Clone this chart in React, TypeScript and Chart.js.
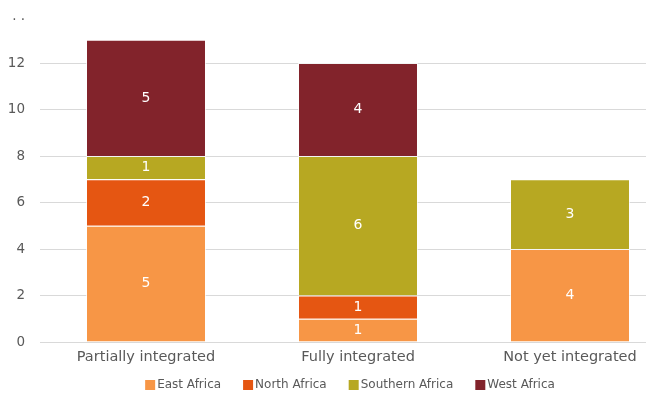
import React, { useEffect, useRef } from "react";
import { Chart, registerables } from "chart.js";

Chart.register(...registerables);

const categories = ["Partially integrated", "Fully integrated", "Not yet integrated"];
const eastAfrica = [5, 1, 4];
const northAfrica = [2, 1, 0];
const southernAfrica = [1, 6, 3];
const westAfrica = [5, 4, 0];
const yTickValues = [0, 2, 4, 6, 8, 10, 12, 14];
const yTickLabels = ["0", "2", "4", "6", "8", "10", "12", ". ."];

const FONT = "'DejaVu Sans', sans-serif";

const dataLabels = {
  id: "dataLabels",
  afterDatasetsDraw(chart: any) {
    const ctx = chart.ctx;
    ctx.save();
    ctx.fillStyle = "#ffffff";
    ctx.font = `14px ${FONT}`;
    ctx.textAlign = "center";
    ctx.textBaseline = "middle";
    chart.data.datasets.forEach((ds: any, i: number) => {
      const meta = chart.getDatasetMeta(i);
      meta.data.forEach((el: any, j: number) => {
        const v = ds.data[j];
        if (!v) return;
        const y = (el.y + el.base) / 2;
        ctx.fillText(String(v), el.x, y);
      });
    });
    ctx.restore();
  },
};

const customLegend = {
  id: "customLegend",
  afterDraw(chart: any) {
    const ctx = chart.ctx;
    ctx.save();
    ctx.font = `12px ${FONT}`;
    ctx.textBaseline = "middle";
    ctx.textAlign = "left";
    const box = 10;
    const gapBox = 2;
    const gapItem = 22;
    const items = chart.data.datasets.map((ds: any) => ({
      label: ds.label,
      color: ds.backgroundColor,
      w: ctx.measureText(ds.label).width,
    }));
    const total =
      items.reduce((s: number, it: any) => s + box + gapBox + it.w, 0) + gapItem * (items.length - 1);
    let x = 350 - total / 2;
    const cy = 385;
    items.forEach((it: any) => {
      ctx.fillStyle = it.color;
      ctx.fillRect(x, cy - box / 2, box, box);
      x += box + gapBox;
      ctx.fillStyle = "#595959";
      ctx.fillText(it.label, x, cy);
      x += it.w + gapItem;
    });
    ctx.restore();
  },
};

export default function App() {
  const ref = useRef<HTMLCanvasElement>(null);
  useEffect(() => {
    if (!ref.current) return;
    const mk = (label: string, data: number[], color: string) => ({
      label,
      data,
      backgroundColor: color,
      borderColor: "rgba(255,255,255,0.7)",
      borderWidth: 1,
      categoryPercentage: 1,
      barPercentage: 0.566,
    });
    const chart = new Chart(ref.current, {
      type: "bar",
      data: {
        labels: categories,
        datasets: [
          mk("East Africa", eastAfrica, "#F79646"),
          mk("North Africa", northAfrica, "#E55612"),
          mk("Southern Africa", southernAfrica, "#B7A822"),
          mk("West Africa", westAfrica, "#82232B"),
        ],
      },
      options: {
        responsive: false,
        animation: false,
        devicePixelRatio: 1,
        layout: { padding: { left: 9, right: 24, top: 16.5, bottom: 43 } },
        plugins: {
          tooltip: { enabled: false },
          legend: { display: false },
        },
        scales: {
          x: {
            stacked: true,
            grid: { display: false, drawTicks: false },
            border: { display: false },
            ticks: { color: "#595959", font: { family: FONT, size: 14.5 }, padding: 7 },
            afterFit(axis: any) {
              axis.height = 22;
              axis.paddingLeft = 0;
              axis.paddingRight = 0;
            },
          },
          y: {
            stacked: true,
            min: 0,
            max: 14,
            afterBuildTicks(axis: any) {
              axis.ticks = yTickValues.map((v) => ({ value: v }));
            },
            afterFit(axis: any) {
              axis.width = 31;
              axis.paddingTop = 0;
              axis.paddingBottom = 0;
            },
            grid: {
              drawTicks: false,
              color: (c: any) => (c.tick && c.tick.value === 14 ? "rgba(0,0,0,0)" : "#d9d9d9"),
            },
            border: { display: false },
            ticks: {
              color: "#595959",
              font: { family: FONT, size: 13.5 },
              padding: 15,
              callback: (v: any) => {
                const i = yTickValues.indexOf(Number(v));
                return i >= 0 ? yTickLabels[i] : "";
              },
            },
          },
        },
      },
      plugins: [dataLabels, customLegend],
    } as any);
    return () => chart.destroy();
  }, []);
  return (
    <div style={{ position: "fixed", left: 0, top: 0, width: 700, height: 407, background: "#fff" }}>
      <canvas ref={ref} width={700} height={407} />
    </div>
  );
}
